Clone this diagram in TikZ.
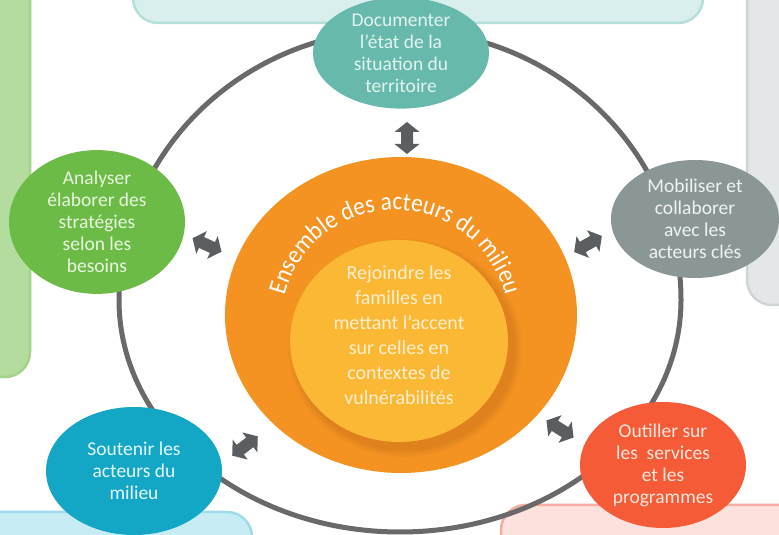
\documentclass[tikz,border=0pt]{standalone}
\usepackage{fontspec}
\setmainfont{Carlito}
\newfontfamily\curvefam[FakeStretch=0.92]{Carlito}
\usetikzlibrary{shapes.geometric,decorations.text}
\definecolor{ringgray}{HTML}{6B6869}
\definecolor{arrowgray}{HTML}{5A5E61}
\definecolor{tealnode}{HTML}{66B9AB}
\definecolor{greennode}{HTML}{6CBB47}
\definecolor{graynode}{HTML}{8B9796}
\definecolor{bluenode}{HTML}{14A7C5}
\definecolor{rednode}{HTML}{F45B36}
\definecolor{orangeb}{HTML}{F49322}
\definecolor{yellowc}{HTML}{FBB835}
\definecolor{shadowo}{HTML}{C9711A}
\definecolor{tealtxt}{HTML}{E3F3F0}
\definecolor{greentxt}{HTML}{E8F5DF}
\definecolor{graytxt}{HTML}{F0F3F3}
\definecolor{bluetxt}{HTML}{E4F6FA}
\definecolor{redtxt}{HTML}{FDE7DE}
\definecolor{yellowtxt}{HTML}{FDEFD0}
\definecolor{ptealf}{HTML}{D9EFED}\definecolor{ptealb}{HTML}{B5DFDA}
\definecolor{pgreenf}{HTML}{B3DC9E}\definecolor{pgreenb}{HTML}{A3D38B}
\definecolor{pgrayf}{HTML}{E4E7E7}\definecolor{pgrayb}{HTML}{CFD5D5}
\definecolor{pbluef}{HTML}{C8ECF4}\definecolor{pblueb}{HTML}{9FDCEB}
\definecolor{ppinkf}{HTML}{FDE1DC}\definecolor{ppinkb}{HTML}{F6ADA2}
\newcommand{\nodefont}{\fontsize{19.5}{22}\selectfont}
\newcommand{\corefont}{\fontsize{20}{25}\selectfont}
\newcommand{\curvefont}{\curvefam\fontsize{25.5}{25.5}\selectfont}
\begin{document}
\begin{tikzpicture}[x=1pt,y=1pt,
  panel/.style={rounded corners=25pt, line width=2.5pt},
  stage/.style={ellipse, draw=none, inner sep=0pt, align=center, font=\nodefont},
  barrow/.pic={\fill[arrowgray] (-16,0) -- (-6,12.5) -- (-6,6) -- (6,6) -- (6,12.5) -- (16,0)
     -- (6,-12.5) -- (6,-6) -- (-6,-6) -- (-6,-12.5) -- cycle;}]
\useasboundingbox (0,0) rectangle (779,535);
\clip (0,0) rectangle (779,535);
% background panels
\draw[panel, fill=ptealf, draw=ptealb] (133,512) rectangle (703,580);
\draw[panel, fill=pgreenf, draw=pgreenb] (-60,158) rectangle (30,580);
\draw[panel, fill=pgrayf, draw=pgrayb] (747,230) rectangle (840,580);
\draw[panel, fill=pbluef, draw=pblueb] (-60,-60) rectangle (252,23);
\draw[panel, fill=ppinkf, draw=ppinkb] (501,-60) rectangle (840,30);
% ring
\coordinate (ringc) at (400,235);
\draw[ringgray, line width=5pt] (119,235) arc[start angle=180, end angle=0, x radius=281, y radius=270]
  arc[start angle=0, end angle=-180, x radius=281, y radius=232];
% stage nodes
\node[stage, fill=tealnode, text=tealtxt, minimum width=176pt, minimum height=110pt] (doc) at (401,482)
  {Documenter\\l’état de la\\situation du\\territoire};
\node[stage, fill=greennode, text=greentxt, minimum width=176pt, minimum height=118pt] (ana) at (97,313)
  {Analyser\\élaborer des\\stratégies\\selon les\\besoins};
\node[stage, fill=graynode, text=graytxt, minimum width=168pt, minimum height=118pt] (mob) at (695,316)
  {Mobiliser et\\collaborer\\avec les\\acteurs clés};
\node[stage, fill=bluenode, text=bluetxt, minimum width=176pt, minimum height=128pt] (sou) at (134,64)
  {Soutenir les\\acteurs du\\milieu};
\node[stage, fill=rednode, text=redtxt, minimum width=166pt, minimum height=126pt] (out) at (663,70)
  {Outiller sur\\les\ \ services\\et les\\programmes};
% orange and yellow core
\node[ellipse, fill=orangeb, minimum width=352pt, minimum height=316pt, inner sep=0pt] (ens) at (401,220) {};
\foreach \o/\s in {0.10/16, 0.12/12, 0.15/8, 0.2/4}{
  \fill[shadowo, opacity=\o] (405,187) ellipse[x radius=109+\s/2, y radius=101+\s/2];
}
\node[ellipse, fill=yellowc, minimum width=218pt, minimum height=202pt, inner sep=0pt] (core) at (399,194) {};
\node[align=center, text=yellowtxt, font=\corefont] (coretxt) at (399,200)
  {Rejoindre les\\familles en\\mettant l’accent\\sur celles en\\contextes de\\vulnérabilités};
\coordinate (txtc) at (395,211);
\path[decorate, decoration={text along path, text align=center,
   text={|\curvefont\color{white}|Ensemble des acteurs du milieu}}]
  (txtc) ++(172:114) arc[start angle=172, end angle=8, radius=114];
% arrows
\pic[rotate=90] (a1) at (407,397) {barrow};
\pic[rotate=-25] (a2) at (207,290) {barrow};
\pic[rotate=30] (a3) at (588,291) {barrow};
\pic[rotate=37] (a4) at (245,89) {barrow};
\pic[rotate=-32] (a5) at (560,106) {barrow};
\end{tikzpicture}
\end{document}
